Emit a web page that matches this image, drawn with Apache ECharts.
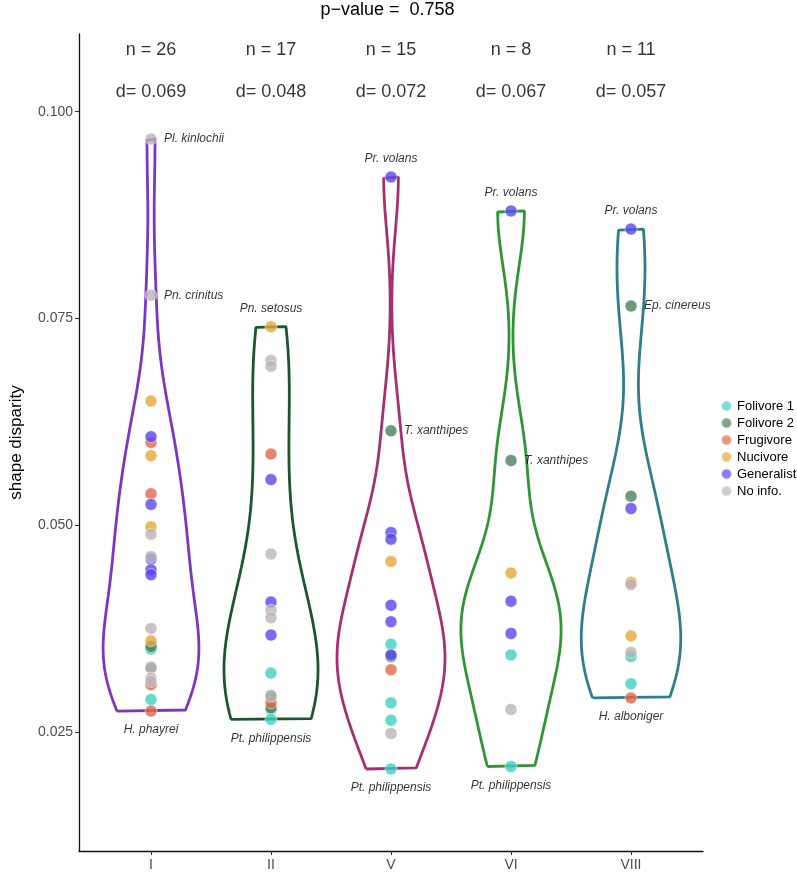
<!DOCTYPE html>
<html>
<head>
<meta charset="utf-8">
<title>shape disparity</title>
<script src="https://cdn.jsdelivr.net/npm/echarts@6/dist/echarts.min.js"></script>
<style>
  html, body { margin: 0; padding: 0; background: #fff; }
  #chart { width: 797px; height: 872px; }
</style>
</head>
<body>
<div id="chart"></div>
<script>
const groups = ['I', 'II', 'V', 'VI', 'VIII']
const diets = ['Folivore 1', 'Folivore 2', 'Frugivore', 'Nucivore', 'Generalist', 'No info.']
const dietCodes = ['F1', 'F2', 'Fr', 'Nu', 'Ge', 'NI']

// shape disparity of each species and its diet code
const valuesI = [0.0967, 0.0778, 0.0650, 0.0607, 0.0600, 0.0584, 0.0538, 0.0525, 0.0498, 0.0489, 0.0462, 0.0459, 0.0446,
  0.0440, 0.0375, 0.0360, 0.0355, 0.0353, 0.0350, 0.0328, 0.0327, 0.0315, 0.0311, 0.0307, 0.0289, 0.0275]
const dietI = ['NI', 'NI', 'Nu', 'Ge', 'Fr', 'Nu', 'Fr', 'Ge', 'Nu', 'NI', 'NI', 'Ge', 'Ge',
  'Ge', 'NI', 'Nu', 'F1', 'F2', 'F1', 'F2', 'NI', 'NI', 'NI', 'Fr', 'F1', 'Fr']

const valuesII = [0.0740, 0.0699, 0.0692, 0.0586, 0.0555, 0.0465, 0.0407, 0.0397, 0.0388, 0.0367, 0.0321, 0.0294,
  0.0293, 0.0285, 0.0279, 0.0277, 0.0265]
const dietII = ['Nu', 'NI', 'NI', 'Fr', 'Ge', 'NI', 'Ge', 'NI', 'NI', 'Ge', 'F1', 'F2', 'NI', 'Fr', 'F2', 'F1', 'F1']

const valuesV = [0.0921, 0.0614, 0.0491, 0.0483, 0.0456, 0.0403, 0.0383, 0.0356, 0.0343, 0.0341, 0.0325, 0.0285,
  0.0264, 0.0248, 0.0205]
const dietV = ['Ge', 'F2', 'Ge', 'Ge', 'Nu', 'Ge', 'Ge', 'F1', 'Ge', 'F2', 'Fr', 'F1', 'F1', 'NI', 'F1']

const valuesVI = [0.0880, 0.0578, 0.0442, 0.0408, 0.0369, 0.0343, 0.0277, 0.0208]
const dietVI = ['Ge', 'F2', 'Nu', 'Ge', 'Ge', 'F1', 'NI', 'F1']

const valuesVIII = [0.0858, 0.0765, 0.0535, 0.0520, 0.0431, 0.0428, 0.0366, 0.0346, 0.0341, 0.0308, 0.0291]
const dietVIII = ['Ge', 'F2', 'F2', 'Ge', 'Nu', 'NI', 'Nu', 'NI', 'F1', 'F1', 'Fr']

const dValues = ['0.069', '0.048', '0.072', '0.067', '0.057']
const pValue = '0.758'
const yTicks = [0.025, 0.05, 0.075, 0.1]

// labelled species: group, index in that group, name
const speciesLabels = [
  ['I', 0, 'Pl. kinlochii'], ['I', 1, 'Pn. crinitus'], ['I', 25, 'H. phayrei'],
  ['II', 0, 'Pn. setosus'], ['II', 16, 'Pt. philippensis'],
  ['V', 0, 'Pr. volans'], ['V', 1, 'T. xanthipes'], ['V', 14, 'Pt. philippensis'],
  ['VI', 0, 'Pr. volans'], ['VI', 1, 'T. xanthipes'], ['VI', 7, 'Pt. philippensis'],
  ['VIII', 0, 'Pr. volans'], ['VIII', 1, 'Ep. cinereus'], ['VIII', 10, 'H. alboniger']
]
const labelSides = ['right', 'right', 'bottom', 'top', 'bottom', 'top', 'right', 'bottom',
  'top', 'right', 'bottom', 'top', 'right', 'bottom']

const groupValues = { I: valuesI, II: valuesII, V: valuesV, VI: valuesVI, VIII: valuesVIII }
const groupDiets = { I: dietI, II: dietII, V: dietV, VI: dietVI, VIII: dietVIII }

const violinColors = ['#7d36c3', '#1c5530', '#a5306f', '#2f9535', '#2e7e8c']
const dietColors = ['#40d0c0', '#4a7f5a', '#e06848', '#e6a838', '#5a46ee', '#bcb3b8']
const fontFamily = '"Liberation Sans", Arial, Helvetica, sans-serif'
const labelGap = { right: 13, top: 12, bottom: 13 }

const gridLeft = 72
const gridRight = 94
const gridTop = 34
const gridBottom = 21

// gaussian kernel density like R density() with bw.nrd0, trimmed to data range
const quantile = (s, p) => {
  const h = (s.length - 1) * p
  const lo = Math.floor(h)
  const hi = Math.min(lo + 1, s.length - 1)
  return s[lo] + (h - lo) * (s[hi] - s[lo])
}
const kde = (vals) => {
  const s = [...vals].sort((a, b) => a - b)
  const n = s.length
  const mean = s.reduce((a, b) => a + b, 0) / n
  const sd = Math.sqrt(s.reduce((a, b) => a + (b - mean) ** 2, 0) / (n - 1))
  const iqr = quantile(s, 0.75) - quantile(s, 0.25)
  let lo = Math.min(sd, iqr / 1.34)
  if (!lo) lo = sd || 1
  const bw = 0.9 * lo * Math.pow(n, -0.2)
  const out = []
  const steps = 512
  for (let i = 0; i < steps; i++) {
    const y = s[0] + (s[n - 1] - s[0]) * i / (steps - 1)
    let d = 0
    for (const x of s) d += Math.exp(-0.5 * ((y - x) / bw) ** 2)
    out.push([y, d / (n * bw * Math.sqrt(2 * Math.PI))])
  }
  return out
}

const densities = groups.map(g => kde(groupValues[g]))
const maxDensity = Math.max(...densities.map(ds => Math.max(...ds.map(p => p[1]))))

const violinSeries = groups.map((g, gi) => {
  const c = gi + 1
  const ds = densities[gi]
  const left = ds.map(([y, d]) => [c - 0.45 * d / maxDensity, y])
  const right = ds.map(([y, d]) => [c + 0.45 * d / maxDensity, y]).reverse()
  return {
    name: 'violin ' + g,
    type: 'line',
    data: [...left, ...right, left[0]],
    showSymbol: false,
    symbol: 'none',
    silent: true,
    z: 2,
    lineStyle: { color: violinColors[gi], width: 2.8 }
  }
})

const pointSeries = diets.map((name, di) => {
  const data = []
  groups.forEach((g, gi) => {
    groupValues[g].forEach((v, i) => {
      if (groupDiets[g][i] === dietCodes[di]) data.push([gi + 1, v])
    })
  })
  return {
    name,
    type: 'scatter',
    data,
    symbolSize: 12,
    z: 3,
    itemStyle: { color: dietColors[di], opacity: 0.8, borderColor: '#fff', borderWidth: 0.6 }
  }
})

const labelSeries = {
  name: 'species',
  type: 'scatter',
  symbolSize: 0,
  silent: true,
  z: 4,
  data: speciesLabels.map(([g, i, text], k) => ({
    value: [groups.indexOf(g) + 1, groupValues[g][i]],
    label: {
      show: true,
      formatter: text,
      position: labelSides[k],
      distance: labelGap[labelSides[k]],
      fontStyle: 'italic',
      fontSize: 12,
      fontFamily,
      color: '#000'
    }
  }))
}

const headerSeries = {
  name: 'header',
  type: 'scatter',
  symbolSize: 0,
  silent: true,
  z: 4,
  data: groups.flatMap((g, gi) => [
    { value: [gi + 1, 0.10746], text: 'n = ' + groupValues[g].length },
    { value: [gi + 1, 0.10242], text: 'd= ' + dValues[gi] }
  ]),
  label: {
    show: true,
    position: 'inside',
    formatter: p => p.data.text,
    fontSize: 18,
    fontFamily,
    color: '#000'
  }
}

const chart = echarts.init(document.getElementById('chart'), null, { renderer: 'canvas' })
chart.setOption({
  animation: false,
  backgroundColor: '#fff',
  graphic: [{
    type: 'text',
    x: gridLeft + (797 - gridLeft - gridRight) / 2,
    y: 10,
    style: {
      text: 'p\u2212value =  ' + pValue,
      textAlign: 'center',
      textVerticalAlign: 'middle',
      fontSize: 18,
      fontFamily,
      fill: '#000'
    }
  }],
  grid: { left: gridLeft, right: gridRight, top: gridTop, bottom: gridBottom },
  legend: {
    data: diets,
    orient: 'vertical',
    left: 715,
    top: 394,
    icon: 'circle',
    itemWidth: 11,
    itemHeight: 11,
    itemGap: 3,
    itemStyle: { opacity: 0.7 },
    textStyle: { fontSize: 13, fontFamily, color: '#000', lineHeight: 14 }
  },
  xAxis: {
    type: 'value',
    min: 0.4,
    max: 5.6,
    splitLine: { show: false },
    axisLine: { lineStyle: { color: '#111', width: 1.3 } },
    axisTick: { customValues: [1, 2, 3, 4, 5], length: 4, lineStyle: { color: '#333' } },
    axisLabel: {
      customValues: [1, 2, 3, 4, 5],
      formatter: v => groups[Math.round(v) - 1],
      fontSize: 14,
      fontFamily,
      color: '#4d4d4d',
      margin: 7
    }
  },
  yAxis: {
    type: 'value',
    min: 0.01058,
    max: 0.1094,
    name: 'shape disparity',
    nameLocation: 'middle',
    nameGap: 54,
    nameTextStyle: { fontSize: 17, fontFamily, color: '#000' },
    splitLine: { show: false },
    axisLine: { show: true, lineStyle: { color: '#111', width: 1.3 } },
    axisTick: { show: true, customValues: yTicks, length: 4, lineStyle: { color: '#333' } },
    axisLabel: {
      customValues: yTicks,
      formatter: v => v.toFixed(3),
      fontSize: 14,
      fontFamily,
      color: '#4d4d4d',
      margin: 6
    }
  },
  series: [...violinSeries, ...pointSeries, labelSeries, headerSeries]
})
</script>
</body>
</html>
